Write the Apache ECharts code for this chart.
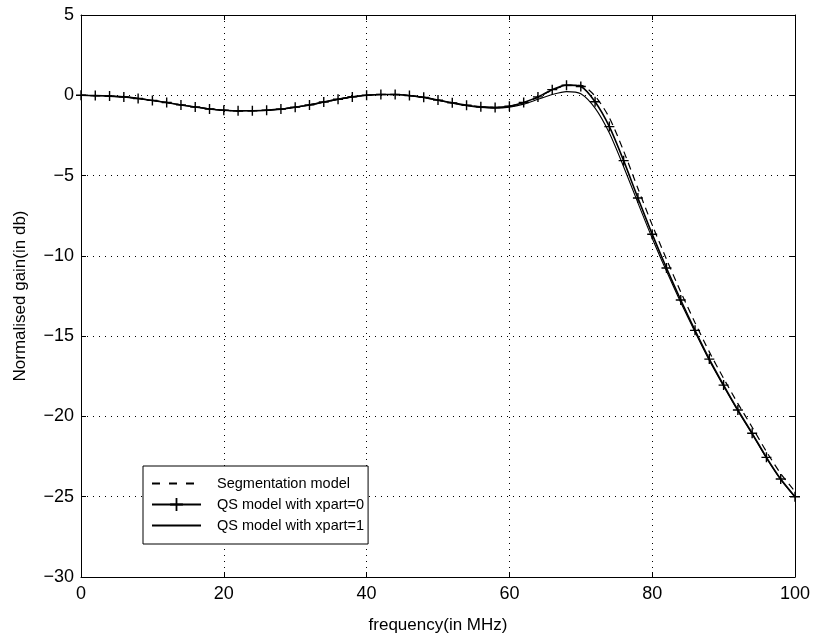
<!DOCTYPE html>
<html>
<head>
<meta charset="utf-8">
<title>Normalised gain vs frequency</title>
<script src="https://cdn.jsdelivr.net/npm/echarts@6/dist/echarts.min.js"></script>
<style>
  html, body { margin: 0; padding: 0; background: #fff; }
  #chart { width: 817px; height: 639px; }
</style>
</head>
<body>
<div id="chart"></div>
<script>
// Frequency samples (MHz)
var freqMHz = [0, 2, 4, 6, 8, 10, 12, 14, 16, 18, 20, 22, 24, 26, 28, 30, 32, 34, 36, 38, 40,
  42, 44, 46, 48, 50, 52, 54, 56, 58, 60, 62, 64, 66, 68, 70, 72, 74, 76, 78, 80,
  82, 84, 86, 88, 90, 92, 94, 96, 98, 100];

// Segmentation model gain (dB)
var segmentationGain = [0, -0.02, -0.05, -0.1, -0.2, -0.32, -0.45, -0.6, -0.73, -0.85, -0.93,
  -0.97, -0.96, -0.93, -0.86, -0.74, -0.6, -0.42, -0.25, -0.1, 0.0,
  0.05, 0.05, -0.02, -0.13, -0.3, -0.47, -0.62, -0.72, -0.76, -0.68,
  -0.46, -0.13, 0.32, 0.6, 0.62, -0.05, -1.4, -3.47, -5.8, -8.07,
  -10.21, -12.25, -14.16, -15.98, -17.63, -19.2, -20.67, -22.19, -23.56, -24.67];

// QS model, xpart = 0 (dB)
var qsXpart0Gain = [0, -0.02, -0.05, -0.1, -0.2, -0.32, -0.45, -0.6, -0.73, -0.85, -0.93,
  -0.97, -0.96, -0.93, -0.86, -0.74, -0.6, -0.42, -0.25, -0.1, 0.0,
  0.05, 0.05, -0.02, -0.13, -0.3, -0.47, -0.62, -0.72, -0.76, -0.68,
  -0.45, -0.1, 0.35, 0.63, 0.55, -0.4, -1.95, -4.07, -6.4, -8.65,
  -10.76, -12.75, -14.64, -16.43, -18.05, -19.6, -21.05, -22.55, -23.9, -25.0];

// QS model, xpart = 1 (dB)
var qsXpart1Gain = [0, -0.02, -0.05, -0.1, -0.2, -0.32, -0.45, -0.6, -0.73, -0.85, -0.93,
  -0.97, -0.96, -0.93, -0.86, -0.74, -0.6, -0.42, -0.25, -0.1, 0.0,
  0.05, 0.05, -0.02, -0.13, -0.31, -0.49, -0.65, -0.75, -0.8, -0.74,
  -0.55, -0.25, 0.05, 0.23, 0.1, -0.8, -2.35, -4.45, -6.7, -8.9,
  -10.95, -12.9, -14.75, -16.52, -18.12, -19.66, -21.1, -22.6, -23.94, -25.02];

var seriesNames = ['Segmentation model', 'QS model with xpart=0', 'QS model with xpart=1'];

function pairs(xs, ys) {
  return xs.map(function (x, i) { return [x, ys[i]]; });
}

function minusSign(v) {
  return String(v).replace('-', '\u2212');
}

var FONT = 'Liberation Sans, Arial, Helvetica, sans-serif';
var plusPath = 'path://M0,4.3H4.3V0H5.7V4.3H10V5.7H5.7V10H4.3V5.7H0Z';

var chart = echarts.init(document.getElementById('chart'), null, { renderer: 'canvas' });

var gridLine = { show: true, lineStyle: { color: '#000', width: 1, type: [1, 5] } };
var boxLine = { show: true, onZero: false, lineStyle: { color: '#000', width: 1 } };

chart.setOption({
  animation: false,
  backgroundColor: '#fff',
  textStyle: { fontFamily: FONT, color: '#000' },
  grid: { left: 81, top: 15, right: 22, bottom: 61, containLabel: false },
  xAxis: [{
    type: 'value', min: 0, max: 100, interval: 20, position: 'bottom',
    name: 'frequency(in MHz)', nameLocation: 'middle', nameGap: 40,
    nameTextStyle: { fontSize: 17, color: '#000', fontFamily: FONT },
    axisLine: boxLine,
    axisTick: { show: true, inside: true, length: 5, lineStyle: { color: '#000' } },
    axisLabel: { fontSize: 18, color: '#000', margin: 8, fontFamily: FONT, formatter: minusSign },
    splitLine: gridLine
  }, {
    type: 'value', min: 0, max: 100, interval: 20, position: 'top',
    axisLine: boxLine,
    axisTick: { show: true, inside: true, length: 5, lineStyle: { color: '#000' } },
    axisLabel: { show: false }, splitLine: { show: false }
  }],
  yAxis: [{
    type: 'value', min: -30, max: 5, interval: 5, position: 'left',
    name: 'Normalised gain(in db)', nameLocation: 'middle', nameGap: 52,
    nameTextStyle: { fontSize: 17, color: '#000', fontFamily: FONT },
    axisLine: boxLine,
    axisTick: { show: true, inside: true, length: 5, lineStyle: { color: '#000' } },
    axisLabel: { fontSize: 18, color: '#000', margin: 7, fontFamily: FONT, formatter: minusSign },
    splitLine: gridLine
  }, {
    type: 'value', min: -30, max: 5, interval: 5, position: 'right',
    axisLine: boxLine,
    axisTick: { show: true, inside: true, length: 5, lineStyle: { color: '#000' } },
    axisLabel: { show: false }, splitLine: { show: false }
  }],
  legend: {
    orient: 'vertical', left: 143, top: 466,
    backgroundColor: '#fff', borderColor: '#000', borderWidth: 1,
    padding: [10, 4, 11, 8], itemGap: 6, itemWidth: 49, itemHeight: 16,
    textStyle: { fontSize: 14.5, color: '#000', fontFamily: FONT, padding: [0, 0, 0, 11] },
    data: [
      { name: seriesNames[0], itemStyle: { opacity: 0 }, lineStyle: { type: [8, 9] } },
      { name: seriesNames[1] },
      { name: seriesNames[2], itemStyle: { opacity: 0 } }
    ]
  },
  series: [{
    name: seriesNames[0], type: 'line', smooth: 0.25, showSymbol: false, symbol: 'none',
    data: pairs(freqMHz, segmentationGain),
    lineStyle: { color: '#000', width: 1.2, type: [7, 5] },
    itemStyle: { color: '#000' }, z: 2
  }, {
    name: seriesNames[1], type: 'line', smooth: 0.25,
    symbol: plusPath, symbolSize: 10, showSymbol: true,
    data: pairs(freqMHz, qsXpart0Gain),
    lineStyle: { color: '#000', width: 1.6 },
    itemStyle: { color: '#000', borderWidth: 0 }, z: 4
  }, {
    name: seriesNames[2], type: 'line', smooth: 0.25, showSymbol: false, symbol: 'none',
    data: pairs(freqMHz, qsXpart1Gain),
    lineStyle: { color: '#000', width: 1.1 },
    itemStyle: { color: '#000' }, z: 3
  }]
});
</script>
</body>
</html>
